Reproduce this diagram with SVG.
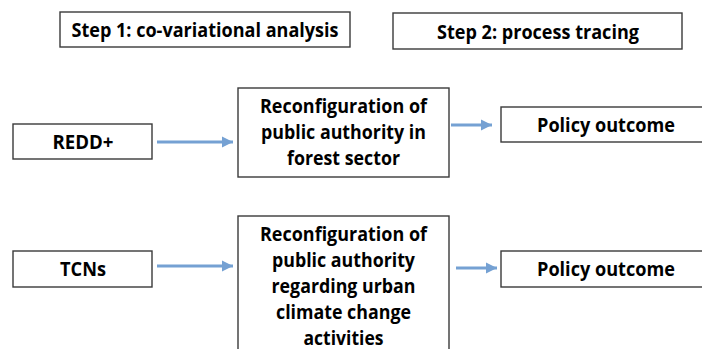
<svg xmlns="http://www.w3.org/2000/svg" width="702" height="349" viewBox="0 0 702 349">
<style>
.box{fill:#ffffff;stroke:#3a3a3a;stroke-width:1.4}
.t{font-family:"Open Sans","Liberation Sans",sans-serif;font-weight:700;font-size:19.5px;fill:#000;text-anchor:middle}
.c{stroke:#75a1d3;stroke-width:3;fill:none}
</style>
<defs>
<marker id="ah" markerUnits="userSpaceOnUse" markerWidth="11" markerHeight="12" refX="11" refY="6" orient="auto">
<path d="M0,0.5 L11,6 L0,11.5 Z" fill="#75a1d3"/>
</marker>
</defs>
<rect width="702" height="349" fill="#ffffff"/>
<g id="step1">
<rect class="box" x="60" y="12" width="290" height="35"/>
<text class="t" x="205" y="37" textLength="267" lengthAdjust="spacingAndGlyphs">Step 1: co-variational analysis</text>
</g>
<g id="step2">
<rect class="box" x="393" y="13" width="289" height="36"/>
<text class="t" x="538" y="38.5" textLength="202" lengthAdjust="spacingAndGlyphs">Step 2: process tracing</text>
</g>
<g id="redd">
<rect class="box" x="13" y="124" width="139" height="35"/>
<text class="t" x="83" y="148.5" textLength="61" lengthAdjust="spacingAndGlyphs">REDD+</text>
</g>
<g id="reconfig1">
<rect class="box" x="238" y="88" width="211" height="89"/>
<text class="t" x="343.5" y="113" textLength="167" lengthAdjust="spacingAndGlyphs">Reconfiguration of</text>
<text class="t" x="343.5" y="139" textLength="165" lengthAdjust="spacingAndGlyphs">public authority in</text>
<text class="t" x="343.5" y="165" textLength="113" lengthAdjust="spacingAndGlyphs">forest sector</text>
</g>
<g id="policy1">
<rect class="box" x="501" y="107" width="215" height="35"/>
<text class="t" x="606" y="132" textLength="138" lengthAdjust="spacingAndGlyphs">Policy outcome</text>
</g>
<g id="tcns">
<rect class="box" x="13" y="251" width="139" height="36"/>
<text class="t" x="83" y="276" textLength="46" lengthAdjust="spacingAndGlyphs">TCNs</text>
</g>
<g id="reconfig2">
<rect class="box" x="238" y="216" width="211" height="150"/>
<text class="t" x="343.5" y="241" textLength="167" lengthAdjust="spacingAndGlyphs">Reconfiguration of</text>
<text class="t" x="343.5" y="267" textLength="143" lengthAdjust="spacingAndGlyphs">public authority</text>
<text class="t" x="343.5" y="293" textLength="144" lengthAdjust="spacingAndGlyphs">regarding urban</text>
<text class="t" x="343.5" y="319" textLength="135" lengthAdjust="spacingAndGlyphs">climate change</text>
<text class="t" x="343.5" y="345" textLength="80" lengthAdjust="spacingAndGlyphs">activities</text>
</g>
<g id="policy2">
<rect class="box" x="501" y="251" width="215" height="36"/>
<text class="t" x="606" y="276" textLength="138" lengthAdjust="spacingAndGlyphs">Policy outcome</text>
</g>
<g id="connectors">
<line class="c" x1="157" y1="142" x2="233" y2="142" marker-end="url(#ah)"/>
<line class="c" x1="451" y1="125" x2="492" y2="125" marker-end="url(#ah)"/>
<line class="c" x1="157" y1="266" x2="233" y2="266" marker-end="url(#ah)"/>
<line class="c" x1="456" y1="268" x2="497" y2="268" marker-end="url(#ah)"/>
</g>
</svg>
